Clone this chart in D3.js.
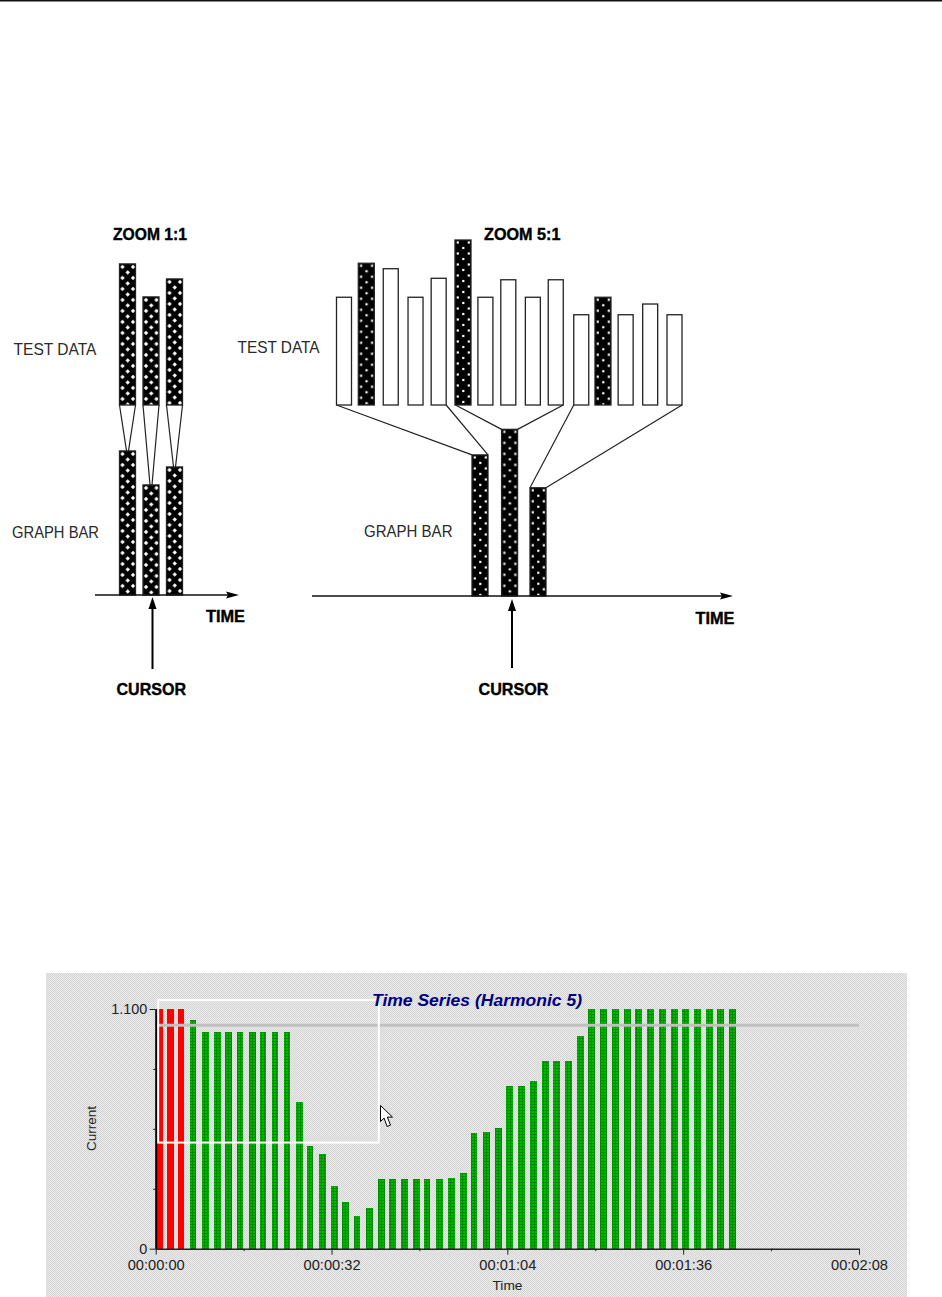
<!DOCTYPE html>
<html>
<head>
<meta charset="utf-8">
<title>Zoom diagram and time series</title>
<script src="https://cdn.jsdelivr.net/npm/d3@7"></script>
<style>
  body { margin: 0; background: #fff; }
  svg { display: block; }
  text { font-family: "Liberation Sans", Arial, sans-serif; }
</style>
</head>
<body>
<svg id="chart" width="942" height="1297"></svg>
<script>
// zoom 1:1 diagram, heights on a 0-10 scale
const zoom1Slots = [0, 1, 2];
const zoom1Test = [8.55, 6.55, 7.64];
const zoom1Graph = [8.73, 6.67, 7.76];

// zoom 5:1 diagram
const zoom5Slots = [0, 0.945, 1.98, 3.03, 4.01, 5.04, 5.99, 6.96, 8, 8.97, 10.05, 10.97, 11.93, 12.97, 14];
const zoom5Test = [6.53, 8.59, 8.26, 6.53, 7.68, 10, 6.53, 7.59, 6.53, 7.59, 5.47, 6.53, 5.47, 6.12, 5.47];
const zoom5Peak = [1, 5, 11]; // the sample picked for each graph bar
const zoom5GraphSlots = [0, 1.02, 2];
const zoom5Graph = [8.55, 10.1, 6.56];
const zoom5Groups = [[0, 4], [5, 9], [10, 14]];

// time series, seconds and current
const seriesTimes = [0.73, 2.66, 4.6, 6.79, 9.03, 11.21, 13.21, 15.34, 17.58, 19.53, 21.71, 23.89, 26.13, 28.08, 30.32,
  32.5, 34.5, 36.63, 38.87, 41.06, 43.06, 45.24, 47.42, 49.37, 51.61, 53.79, 55.98, 57.93, 60.16, 62.35, 64.35, 66.53,
  68.72, 70.97, 72.9, 75.09, 77.34, 79.27, 81.45, 83.64, 85.9, 87.83, 90.01, 92.27, 94.45, 96.38, 98.63, 100.82, 102.75, 104.93];
const seriesValues = [1.1, 1.1, 1.1, 1.05, 0.994, 0.994, 0.994, 0.994, 0.994, 0.994, 0.994, 0.994, 0.672, 0.473, 0.436,
  0.288, 0.213, 0.152, 0.188, 0.318, 0.318, 0.318, 0.318, 0.318, 0.318, 0.324, 0.349, 0.53, 0.535, 0.554, 0.745, 0.745,
  0.77, 0.863, 0.863, 0.863, 0.975, 1.1, 1.1, 1.1, 1.1, 1.1, 1.1, 1.1, 1.1, 1.1, 1.1, 1.1, 1.1, 1.1];
const redCount = 3;
const limitValue = 1.025;
const timeTicks = [0, 16, 32, 48, 64, 80, 96, 112, 128];
const timeLabels = { 0: '00:00:00', 32: '00:00:32', 64: '00:01:04', 96: '00:01:36', 128: '00:02:08' };
const currentTicks = [0, 0.275, 0.55, 0.825, 1.1];
const currentLabels = { 0: '0', 1.1: '1.100' };
const selectionTimes = [0.45, 40.6];
const selectionValues = [1.141, 0.487];

const svg = d3.select('#chart');
const defs = svg.append('defs');

// top rule of the page
svg.append('rect').attr('x', 0).attr('y', 0).attr('width', 942).attr('height', 1.5).attr('fill', '#111');

function dotPattern(id, w, h, dots, r, square) {
  const p = defs.append('pattern').attr('id', id).attr('patternUnits', 'userSpaceOnUse')
    .attr('width', w).attr('height', h);
  p.append('rect').attr('width', w).attr('height', h).attr('fill', '#000');
  dots.forEach(d => {
    if (square) {
      p.append('rect').attr('x', d[0] - r).attr('y', d[1] - r).attr('width', r * 2).attr('height', r * 2).attr('fill', '#fff');
    } else {
      p.append('path').attr('fill', '#fff')
        .attr('d', `M${d[0]},${d[1] - r}L${d[0] + r},${d[1]}L${d[0]},${d[1] + r}L${d[0] - r},${d[1]}Z`);
    }
  });
}
dotPattern('dense', 10.5, 11, [[3, 3], [8.25, 8.5], [-2.25, 8.5]], 2.2, false);
dotPattern('sparse', 11, 11, [[2.8, 2.5], [8.3, 8]], 1.1, true);

const greenDots = defs.append('pattern').attr('id', 'green').attr('patternUnits', 'userSpaceOnUse')
  .attr('width', 3).attr('height', 3);
greenDots.append('rect').attr('width', 3).attr('height', 3).attr('fill', '#00b800');
greenDots.append('rect').attr('width', 1).attr('height', 3).attr('fill', '#008c00');
greenDots.append('rect').attr('width', 3).attr('height', 1).attr('fill', '#008c00');

const panelDots = defs.append('pattern').attr('id', 'panel').attr('patternUnits', 'userSpaceOnUse')
  .attr('width', 2).attr('height', 2);
panelDots.append('rect').attr('width', 2).attr('height', 2).attr('fill', '#ebebeb');
panelDots.append('rect').attr('width', 1).attr('height', 1).attr('fill', '#d4d4d4');
panelDots.append('rect').attr('x', 1).attr('y', 1).attr('width', 1).attr('height', 1).attr('fill', '#d4d4d4');

function label(txt, x, y, len, size, weight) {
  svg.append('text').attr('x', x).attr('y', y).attr('font-size', size)
    .attr('font-weight', weight || 'normal')
    .attr('fill', weight ? '#000' : '#2a2a2a')
    .attr('stroke', weight ? '#000' : 'none')
    .attr('stroke-width', weight ? 0.4 : 0)
    .attr('textLength', len).attr('lengthAdjust', 'spacingAndGlyphs')
    .text(txt);
}

const heightScale = d3.scaleLinear().domain([0, 10]).range([0, 165]);

// a bar grows up from the baseline, the pattern follows the bar
function drawBars(slots, values, xs, baseline, width, fillFn) {
  const g = svg.append('g');
  const bar = g.selectAll('g').data(values).enter().append('g')
    .attr('transform', (d, i) => `translate(${xs(slots[i]) - width(i) / 2},${baseline - heightScale(d)})`);
  bar.append('rect')
    .attr('width', (d, i) => width(i))
    .attr('height', d => heightScale(d))
    .attr('fill', (d, i) => fillFn(i))
    .attr('stroke', '#222')
    .attr('stroke-width', 1.3);
}

function drawLink(x1, y1, x2, y2) {
  svg.append('line').attr('x1', x1).attr('y1', y1).attr('x2', x2).attr('y2', y2)
    .attr('stroke', '#222').attr('stroke-width', 1.2);
}

function timeArrow(x1, x2, y) {
  svg.append('line').attr('x1', x1).attr('x2', x2 - 6).attr('y1', y).attr('y2', y).attr('stroke', '#111').attr('stroke-width', 1.5);
  svg.append('path').attr('fill', '#000').attr('d', `M${x2},${y}L${x2 - 13},${y - 3.5}L${x2 - 11},${y}L${x2 - 13},${y + 3.5}Z`);
}

function cursorArrow(x, y1, y2) {
  svg.append('line').attr('x1', x).attr('x2', x).attr('y1', y1).attr('y2', y2 + 8).attr('stroke', '#000').attr('stroke-width', 2);
  svg.append('path').attr('fill', '#000').attr('d', `M${x},${y2}L${x + 4},${y2 + 12}L${x - 4},${y2 + 12}Z`);
}

// ---- zoom 1:1 ----
const x1 = d3.scaleLinear().domain([0, 2]).range([127.5, 174.5]);
const test1Base = 405;
const graph1Base = 595;
zoom1Slots.forEach((s, i) => {
  const c = x1(s);
  drawLink(c - 8, test1Base, c - 1, graph1Base - heightScale(zoom1Graph[i]));
  drawLink(c + 8, test1Base, c + 1, graph1Base - heightScale(zoom1Graph[i]));
});
drawBars(zoom1Slots, zoom1Test, x1, test1Base, () => 16, () => 'url(#dense)');
drawBars(zoom1Slots, zoom1Graph, x1, graph1Base, () => 16, () => 'url(#dense)');
timeArrow(95, 239, graph1Base);
cursorArrow(x1(1) + 1.5, 669, 597);

label('ZOOM 1:1', 113, 240, 74, 16.5, 'bold');
label('TEST DATA', 13.5, 355, 83, 17);
label('GRAPH BAR', 12, 538, 87, 17);
label('TIME', 206, 621.5, 39, 16.5, 'bold');
label('CURSOR', 116.5, 694.5, 69.5, 16.5, 'bold');

// ---- zoom 5:1 ----
const x5 = d3.scaleLinear().domain([0, 14]).range([344, 674.5]);
const xg = d3.scaleLinear().domain([0, 2]).range([480, 538]);
const test5Base = 405;
const graph5Base = 596;
zoom5Groups.forEach((grp, i) => {
  const top = graph5Base - heightScale(zoom5Graph[i]);
  const c = xg(zoom5GraphSlots[i]);
  drawLink(x5(zoom5Slots[grp[0]]) - 7.5, test5Base, c - 8, top);
  drawLink(x5(zoom5Slots[grp[1]]) + 7.5, test5Base, c + 8, top);
});
drawBars(zoom5Slots, zoom5Test, x5, test5Base,
  i => zoom5Peak.includes(i) ? 16 : 15,
  i => zoom5Peak.includes(i) ? 'url(#sparse)' : '#fff');
drawBars(zoom5GraphSlots, zoom5Graph, xg, graph5Base, () => 16, () => 'url(#sparse)');
timeArrow(312, 733, graph5Base);
cursorArrow(512, 668, 599);

label('ZOOM 5:1', 484, 240, 76.5, 16.5, 'bold');
label('TEST DATA', 237.5, 352.5, 82, 17);
label('GRAPH BAR', 364, 536.5, 88.5, 17);
label('TIME', 695.5, 624, 39, 16.5, 'bold');
label('CURSOR', 478.5, 694.5, 70, 16.5, 'bold');

// ---- time series ----
svg.append('rect').attr('x', 46).attr('y', 973).attr('width', 861).attr('height', 324).attr('fill', 'url(#panel)');

const x = d3.scaleLinear().domain([0, 128]).range([155.7, 859]);
const y = d3.scaleLinear().domain([0, 1.1]).range([1248.7, 1009]);

svg.append('g').selectAll('rect').data(seriesValues).enter().append('rect')
  .attr('x', (d, i) => x(seriesTimes[i]) - 3.4)
  .attr('y', d => y(d))
  .attr('width', 6.8)
  .attr('height', d => y(0) - y(d))
  .attr('shape-rendering', 'crispEdges')
  .attr('fill', (d, i) => i < redCount ? '#ff0000' : 'url(#green)');

// limit line runs over the bars
svg.append('line').attr('x1', x(0)).attr('x2', x(128)).attr('y1', y(limitValue)).attr('y2', y(limitValue))
  .attr('stroke', '#c0c0c0').attr('stroke-width', 3);

const yAxis = d3.axisLeft(y).tickValues(currentTicks).tickSizeOuter(0)
  .tickFormat(d => currentLabels[d] || '');
const yG = svg.append('g').attr('transform', `translate(${x(0)},0)`).call(yAxis);
yG.select('.domain').attr('stroke', '#000').attr('stroke-width', 2);
yG.selectAll('.tick line').attr('stroke', '#222').attr('x2', d => currentLabels[d] ? -6 : -2.5);
yG.selectAll('.tick text')
  .attr('x', -8.5).attr('font-size', 15).attr('fill', '#222')
  .attr('font-family', '"Liberation Sans", Arial, sans-serif')
  .each(function(d) {
    if (currentLabels[d]) d3.select(this).attr('textLength', d === 0 ? 8 : 36).attr('lengthAdjust', 'spacingAndGlyphs');
  });

const xAxis = d3.axisBottom(x).tickValues(timeTicks).tickSizeOuter(0)
  .tickFormat(d => timeLabels[d] || '');
const xG = svg.append('g').attr('transform', `translate(0,${y(0)})`).call(xAxis);
xG.select('.domain').attr('stroke', '#222').attr('stroke-width', 1.5);
xG.selectAll('.tick line').attr('stroke', '#222').attr('y2', d => timeLabels[d] ? 6 : 2.5);
xG.selectAll('.tick text')
  .attr('y', 11).attr('font-size', 14).attr('fill', '#222')
  .attr('font-family', '"Liberation Sans", Arial, sans-serif')
  .attr('textLength', 57).attr('lengthAdjust', 'spacingAndGlyphs');

// selection box and mouse pointer
svg.append('rect')
  .attr('x', x(selectionTimes[0])).attr('y', y(selectionValues[0]))
  .attr('width', x(selectionTimes[1]) - x(selectionTimes[0]))
  .attr('height', y(selectionValues[1]) - y(selectionValues[0]))
  .attr('fill', 'none').attr('stroke', '#fff').attr('stroke-width', 2);

svg.append('path')
  .attr('transform', 'translate(380.5,1105.5)')
  .attr('d', 'M0,0L0,16L3.6,12.6L6.6,21L10,19.6L6.8,11.6L12,11.6Z')
  .attr('fill', '#fff').attr('stroke', '#000').attr('stroke-width', 1);

svg.append('text').attr('x', 372).attr('y', 1005.5).attr('font-size', 17)
  .attr('font-weight', 'bold').attr('font-style', 'italic').attr('fill', '#000080')
  .attr('textLength', 210).attr('lengthAdjust', 'spacingAndGlyphs')
  .text('Time Series (Harmonic 5)');

svg.append('text').attr('transform', 'translate(95.5,1128.5) rotate(-90)')
  .attr('text-anchor', 'middle').attr('font-size', 12.5).attr('fill', '#222')
  .attr('textLength', 45).attr('lengthAdjust', 'spacingAndGlyphs')
  .text('Current');
svg.append('text').attr('x', 492.5).attr('y', 1289.5).attr('font-size', 12.5).attr('fill', '#222')
  .attr('textLength', 30).attr('lengthAdjust', 'spacingAndGlyphs')
  .text('Time');
</script>
</body>
</html>
